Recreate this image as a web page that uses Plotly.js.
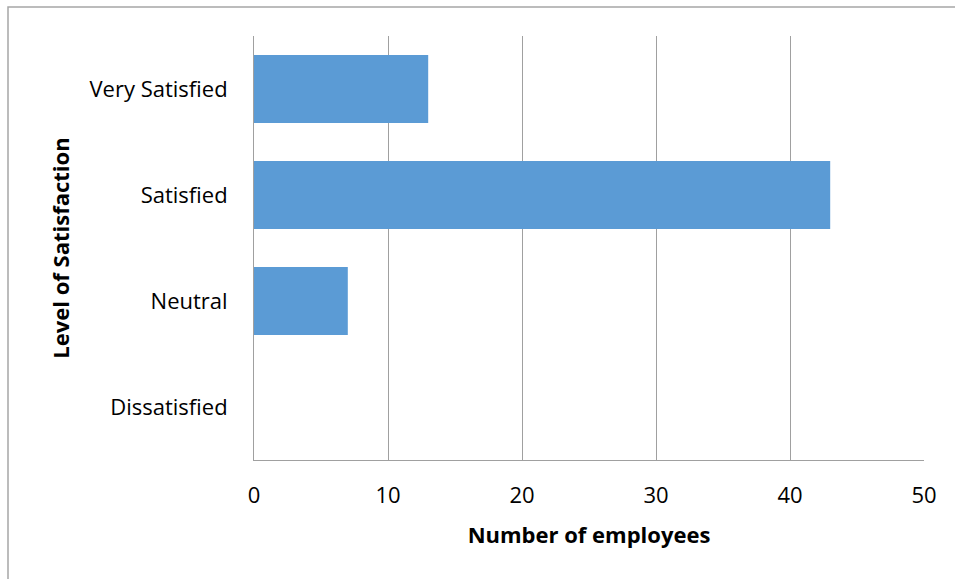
<!DOCTYPE html>
<html><head><meta charset="utf-8">
<script src="https://cdn.plot.ly/plotly-3.0.1.min.js"></script>
<style>html,body{margin:0;padding:0;background:#fff}</style>
</head><body>
<div id="chart" style="width:955px;height:579px"></div>
<script>
const categories = ["Dissatisfied", "Neutral", "Satisfied", "Very Satisfied"];
const employees = [0, 7, 43, 13];
const xTicks = [0, 10, 20, 30, 40, 50];
const xTitle = "Number of employees";
const yTitle = "Level of Satisfaction";

const fontFam = "'Open Sans', sans-serif";
const trace = {
  type: "bar",
  orientation: "h",
  y: categories,
  x: employees,
  marker: {color: "#5b9bd5"},
  hoverinfo: "none"
};
const layout = {
  width: 955, height: 579,
  margin: {l: 254, r: 31, t: 36, b: 119},
  paper_bgcolor: "#fff", plot_bgcolor: "#fff",
  showlegend: false,
  bargap: 0.36,
  font: {family: fontFam, size: 22, color: "#000"},
  xaxis: {
    range: [0, 50], tickvals: xTicks, ticktext: xTicks.map(String),
    showgrid: true, gridcolor: "#a0a0a0", gridwidth: 1,
    showline: true, linecolor: "#a0a0a0", linewidth: 1,
    zeroline: false, ticks: "", ticklabelstandoff: 16,
    tickfont: {family: fontFam, size: 22, color: "#000"},
    title: {text: xTitle, font: {family: fontFam, size: 22, color: "#000", weight: "bold"}, standoff: 19}
  },
  yaxis: {
    categoryorder: "array", categoryarray: categories,
    showgrid: false, showline: true, linecolor: "#a0a0a0", linewidth: 1,
    zeroline: false, ticks: "", ticklabelstandoff: 21,
    tickfont: {family: fontFam, size: 22, color: "#000"},
    title: {text: yTitle, font: {family: fontFam, size: 22, color: "#000", weight: "bold"}, standoff: 13}
  },
  shapes: [{
    type: "rect", xref: "paper", yref: "paper",
    x0: -246/670, x1: 1.2, y0: -0.5, y1: 1 + 29/424,
    line: {color: "#a6a6a6", width: 1.5}, fillcolor: "rgba(0,0,0,0)", layer: "below"
  }]
};
Plotly.newPlot("chart", [trace], layout, {displayModeBar: false, staticPlot: true});
</script>
</body></html>
